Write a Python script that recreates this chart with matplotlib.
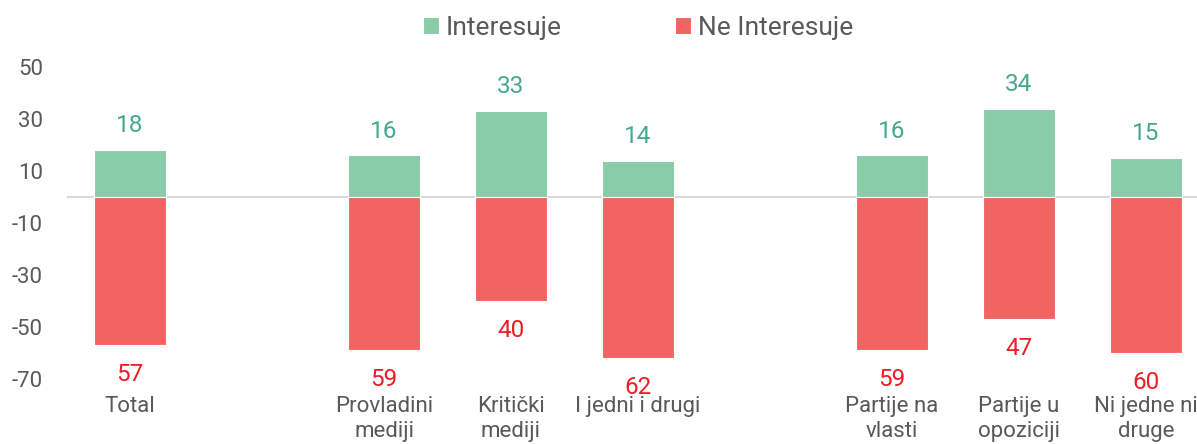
import matplotlib.pyplot as plt
import numpy as np

plt.rcParams['font.family'] = ['Roboto', 'DejaVu Sans']
plt.rcParams['axes.unicode_minus'] = False

# data
categories = ["Total",
              "Provladini\nmediji", "Kritički\nmediji", "I jedni i drugi",
              "Partije na\nvlasti", "Partije u\nopoziciji", "Ni jedne ni\ndruge"]
group_sizes = [1, 3, 3]
interesuje = [18, 16, 33, 14, 16, 34, 15]
ne_interesuje = [57, 59, 40, 62, 59, 47, 60]

# positions: one empty slot between groups
pos = []
x = 0
for g in group_sizes:
    for i in range(g):
        pos.append(x)
        x += 1
    x += 1
pos = np.array(pos)

green = "#88CCA8"
red = "#F06462"
green_txt = "#45A88C"
red_txt = "#EE1C25"
grey_txt = "#595959"

fig = plt.figure(figsize=(11.97, 4.44), dpi=100)
ax = fig.add_axes([66.5 / 1197, 65 / 444, 1143 / 1197, 312 / 444])

b1 = ax.bar(pos, interesuje, width=0.56, color=green, edgecolor="white",
            linewidth=0.8, label="Interesuje", zorder=2)
b2 = ax.bar(pos, [-v for v in ne_interesuje], width=0.56, color=red,
            edgecolor="white", linewidth=0.8, label="Ne Interesuje", zorder=2)

ax.axhline(0, color="#D9D9D9", linewidth=1.5, zorder=1)

for p, v in zip(pos, interesuje):
    ax.annotate(str(v), (p, v), xytext=(0, 17.5), textcoords="offset points",
                ha="center", va="center", color=green_txt, fontsize=17.5)
for p, v in zip(pos, ne_interesuje):
    ax.annotate(str(v), (p, -v), xytext=(0, -21), textcoords="offset points",
                ha="center", va="center", color=red_txt, fontsize=17.5)

ax.set_xlim(-0.5, pos[-1] + 0.5)
ax.set_ylim(-70, 50)
ax.set_yticks(np.arange(-70, 51, 20))
ax.set_xticks(pos)
ax.set_xticklabels(categories, linespacing=1.3)
ax.tick_params(axis="both", length=0, labelsize=16, colors=grey_txt)
ax.tick_params(axis="x", pad=12)
ax.tick_params(axis="y", pad=17)
for s in ax.spines.values():
    s.set_visible(False)

fig.legend(handles=[b1, b2], loc="center", bbox_to_anchor=(638 / 1197, 1 - 28 / 444),
           ncol=2, frameon=False, fontsize=19, handlelength=0.6, handleheight=0.6,
           handletextpad=0.25, columnspacing=4.3, labelcolor=grey_txt)

fig.savefig("out.png", dpi=100)
